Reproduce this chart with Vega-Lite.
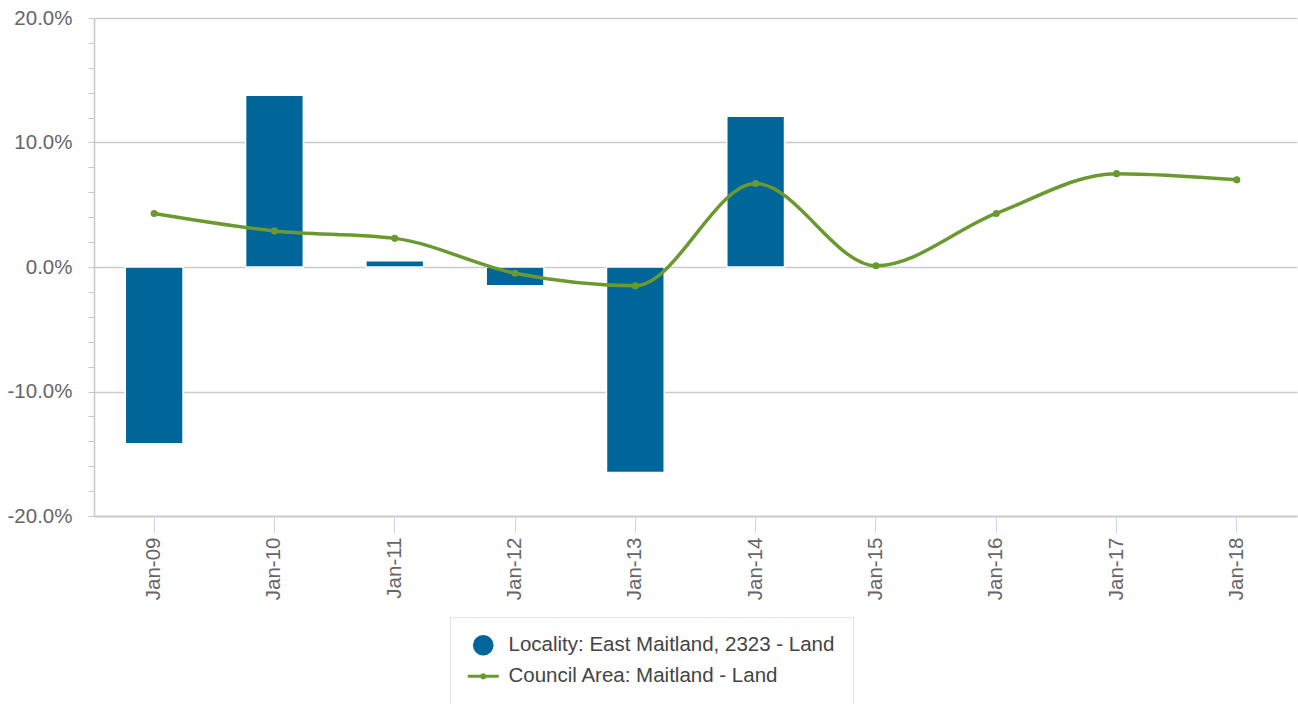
{
  "$schema": "https://vega.github.io/schema/vega-lite/v6.json",
  "width": 1203,
  "height": 498,
  "autosize": {"type": "none"},
  "padding": {"left": 94, "top": 18, "right": 1, "bottom": 188},
  "background": "white",
  "config": {
    "view": {"stroke": null},
    "font": "Liberation Sans"
  },
  "data": {
    "values": [
      {"date": "Jan-09", "series": "Locality: East Maitland, 2323 - Land", "value": -0.142},
      {"date": "Jan-10", "series": "Locality: East Maitland, 2323 - Land", "value": 0.138},
      {"date": "Jan-11", "series": "Locality: East Maitland, 2323 - Land", "value": 0.005},
      {"date": "Jan-12", "series": "Locality: East Maitland, 2323 - Land", "value": -0.015},
      {"date": "Jan-13", "series": "Locality: East Maitland, 2323 - Land", "value": -0.165},
      {"date": "Jan-14", "series": "Locality: East Maitland, 2323 - Land", "value": 0.121},
      {"date": "Jan-09", "series": "Council Area: Maitland - Land", "value": 0.043},
      {"date": "Jan-10", "series": "Council Area: Maitland - Land", "value": 0.029},
      {"date": "Jan-11", "series": "Council Area: Maitland - Land", "value": 0.023},
      {"date": "Jan-12", "series": "Council Area: Maitland - Land", "value": -0.005},
      {"date": "Jan-13", "series": "Council Area: Maitland - Land", "value": -0.015},
      {"date": "Jan-14", "series": "Council Area: Maitland - Land", "value": 0.067},
      {"date": "Jan-15", "series": "Council Area: Maitland - Land", "value": 0.001},
      {"date": "Jan-16", "series": "Council Area: Maitland - Land", "value": 0.043},
      {"date": "Jan-17", "series": "Council Area: Maitland - Land", "value": 0.075},
      {"date": "Jan-18", "series": "Council Area: Maitland - Land", "value": 0.070}
    ]
  },
  "encoding": {
    "x": {
      "field": "date",
      "type": "nominal",
      "sort": ["Jan-09","Jan-10","Jan-11","Jan-12","Jan-13","Jan-14","Jan-15","Jan-16","Jan-17","Jan-18"],
      "scale": {"paddingInner": 0.52, "paddingOuter": 0.26},
      "axis": {
        "title": null,
        "labelAngle": -90,
        "labelFontSize": 20.5,
        "labelColor": "#666666",
        "labelPadding": 4,
        "tickSize": 17,
        "tickColor": "#ccd6eb",
        "domainColor": "#c8c8c8",
        "domainWidth": 1.5,
        "grid": false
      }
    },
    "y": {
      "field": "value",
      "type": "quantitative",
      "scale": {"domain": [-0.2, 0.2], "nice": false, "zero": false},
      "axis": {
        "title": null,
        "values": [-0.2,-0.18,-0.16,-0.14,-0.12,-0.1,-0.08,-0.06,-0.04,-0.02,0,0.02,0.04,0.06,0.08,0.1,0.12,0.14,0.16,0.18,0.2],
        "format": ".1%",
        "labelExpr": "abs(datum.value*10 - round(datum.value*10)) < 0.001 ? replace(datum.label, '\u2212', '-') : ''",
        "labelOverlap": false,
        "labelFontSize": 20.5,
        "labelColor": "#666666",
        "labelPadding": 16,
        "tickSize": 6,
        "tickColor": "#c8c8c8",
        "domainColor": "#c8c8c8",
        "domainWidth": 1.5,
        "grid": true,
        "gridColor": "#cccccc",
        "gridWidth": 1.5,
        "gridOpacity": {"condition": {"test": "abs(datum.value*10 - round(datum.value*10)) < 0.001", "value": 1}, "value": 0}
      }
    },
    "color": {
      "field": "series",
      "type": "nominal",
      "scale": {
        "domain": ["Locality: East Maitland, 2323 - Land", "Council Area: Maitland - Land"],
        "range": ["#006699", "#6a9a2f"]
      },
      "legend": {
        "title": null,
        "orient": "none",
        "legendX": 356,
        "legendY": 599,
        "padding": 18,
        "strokeColor": "#e4e4e4",
        "labelFontSize": 20.5,
        "labelColor": "#444444",
        "labelFont": "Liberation Sans",
        "labelLimit": 0,
        "symbolSize": 428,
        "symbolOffset": 5,
        "rowPadding": 10,
        "labelOffset": 15,
        "encode": {
          "symbols": {
            "update": {
              "shape": {"signal": "datum.value == 'Council Area: Maitland - Land' ? 'M-1.5,0H1.5M-0.15,0A0.15,0.15 0 1,0 0.15,0A0.15,0.15 0 1,0 -0.15,0Z' : 'circle'"},
              "fill": {"scale": "color", "field": "value"},
              "stroke": {"scale": "color", "field": "value"},
              "strokeWidth": {"signal": "datum.value == 'Council Area: Maitland - Land' ? 3 : 0"},
              "opacity": {"value": 1}
            }
          }
        }
      }
    }
  },
  "layer": [
    {
      "transform": [{"filter": "datum.series == 'Locality: East Maitland, 2323 - Land'"}],
      "mark": {"type": "bar", "stroke": "white", "strokeWidth": 1.5}
    },
    {
      "transform": [{"filter": "datum.series == 'Council Area: Maitland - Land'"}],
      "mark": {"type": "line", "interpolate": "monotone", "strokeWidth": 3.5, "point": {"filled": true, "size": 50}}
    }
  ]
}
